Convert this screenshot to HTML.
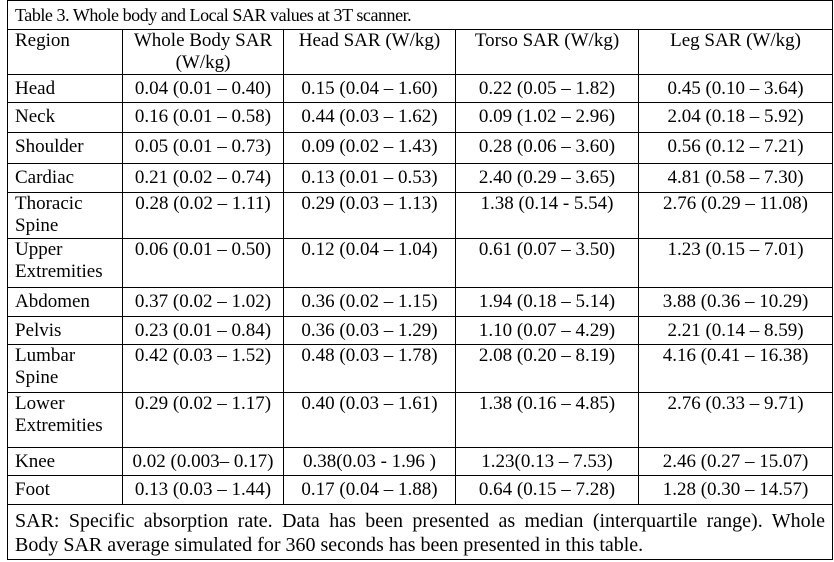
<!DOCTYPE html>
<html><head><meta charset="utf-8"><style>
body{margin:0;background:#fff;width:834px;height:562px;overflow:hidden}
table{position:absolute;left:7px;top:0;border-collapse:collapse;font-family:"Liberation Serif",serif;font-size:19px;color:#000;table-layout:fixed;width:825px}
td{border:1px solid #000;padding:0 7px;vertical-align:top;line-height:22px;white-space:nowrap}
td.c{text-align:center}
td.p{padding-top:3px}
.j{text-align:justify;text-align-last:justify;white-space:nowrap}
</style></head><body>
<table>
<colgroup><col style="width:115px"><col style="width:161px"><col style="width:172px"><col style="width:183px"><col style="width:194px"></colgroup>
<tr style="height:29px"><td colspan="5" style="font-family:'Liberation Serif',serif;font-size:18px;letter-spacing:-0.45px;padding-top:3px">Table 3. Whole body and Local SAR values at 3T scanner.</td></tr>
<tr style="height:45px"><td>Region</td><td class="c">Whole Body SAR<br>(W/kg)</td><td class="c">Head SAR (W/kg)</td><td class="c">Torso SAR (W/kg)</td><td class="c">Leg SAR (W/kg)</td></tr>
<tr style="height:28px"><td class="p">Head</td><td class="c p">0.04 (0.01 – 0.40)</td><td class="c p">0.15 (0.04 – 1.60)</td><td class="c p">0.22 (0.05 – 1.82)</td><td class="c p">0.45 (0.10 – 3.64)</td></tr>
<tr style="height:30px"><td class="p">Neck</td><td class="c p">0.16 (0.01 – 0.58)</td><td class="c p">0.44 (0.03 – 1.62)</td><td class="c p">0.09 (1.02 – 2.96)</td><td class="c p">2.04 (0.18 – 5.92)</td></tr>
<tr style="height:31px"><td class="p">Shoulder</td><td class="c p">0.05 (0.01 – 0.73)</td><td class="c p">0.09 (0.02 – 1.43)</td><td class="c p">0.28 (0.06 – 3.60)</td><td class="c p">0.56 (0.12 – 7.21)</td></tr>
<tr style="height:29px"><td class="p">Cardiac</td><td class="c p">0.21 (0.02 – 0.74)</td><td class="c p">0.13 (0.01 – 0.53)</td><td class="c p">2.40 (0.29 – 3.65)</td><td class="c p">4.81 (0.58 – 7.30)</td></tr>
<tr style="height:46px"><td>Thoracic<br>Spine</td><td class="c">0.28 (0.02 – 1.11)</td><td class="c">0.29 (0.03 – 1.13)</td><td class="c">1.38 (0.14 - 5.54)</td><td class="c">2.76 (0.29 – 11.08)</td></tr>
<tr style="height:49px"><td>Upper<br>Extremities</td><td class="c">0.06 (0.01 – 0.50)</td><td class="c">0.12 (0.04 – 1.04)</td><td class="c">0.61 (0.07 – 3.50)</td><td class="c">1.23 (0.15 – 7.01)</td></tr>
<tr style="height:29px"><td class="p">Abdomen</td><td class="c p">0.37 (0.02 – 1.02)</td><td class="c p">0.36 (0.02 – 1.15)</td><td class="c p">1.94 (0.18 – 5.14)</td><td class="c p">3.88 (0.36 – 10.29)</td></tr>
<tr style="height:28px"><td class="p">Pelvis</td><td class="c p">0.23 (0.01 – 0.84)</td><td class="c p">0.36 (0.03 – 1.29)</td><td class="c p">1.10 (0.07 – 4.29)</td><td class="c p">2.21 (0.14 – 8.59)</td></tr>
<tr style="height:48px"><td>Lumbar<br>Spine</td><td class="c">0.42 (0.03 – 1.52)</td><td class="c">0.48 (0.03 – 1.78)</td><td class="c">2.08 (0.20 – 8.19)</td><td class="c">4.16 (0.41 – 16.38)</td></tr>
<tr style="height:55px"><td>Lower<br>Extremities</td><td class="c">0.29 (0.02 – 1.17)</td><td class="c">0.40 (0.03 – 1.61)</td><td class="c">1.38 (0.16 – 4.85)</td><td class="c">2.76 (0.33 – 9.71)</td></tr>
<tr style="height:28px"><td class="p">Knee</td><td class="c p">0.02 (0.003– 0.17)</td><td class="c p">0.38(0.03 - 1.96 )</td><td class="c p">1.23(0.13 – 7.53)</td><td class="c p">2.46 (0.27 – 15.07)</td></tr>
<tr style="height:29px"><td class="p">Foot</td><td class="c p">0.13 (0.03 – 1.44)</td><td class="c p">0.17 (0.04 – 1.88)</td><td class="c p">0.64 (0.15 – 7.28)</td><td class="c p">1.28 (0.30 – 14.57)</td></tr>
<tr style="height:55px"><td colspan="5" style="font-family:'Liberation Serif',serif;font-size:20px;line-height:24px;padding-top:4px;white-space:nowrap"><div class="j">SAR: Specific absorption rate. Data has been presented as median (interquartile range). Whole</div><div>Body SAR average simulated for 360 seconds has been presented in this table.</div></td></tr>
</table>
</body></html>
